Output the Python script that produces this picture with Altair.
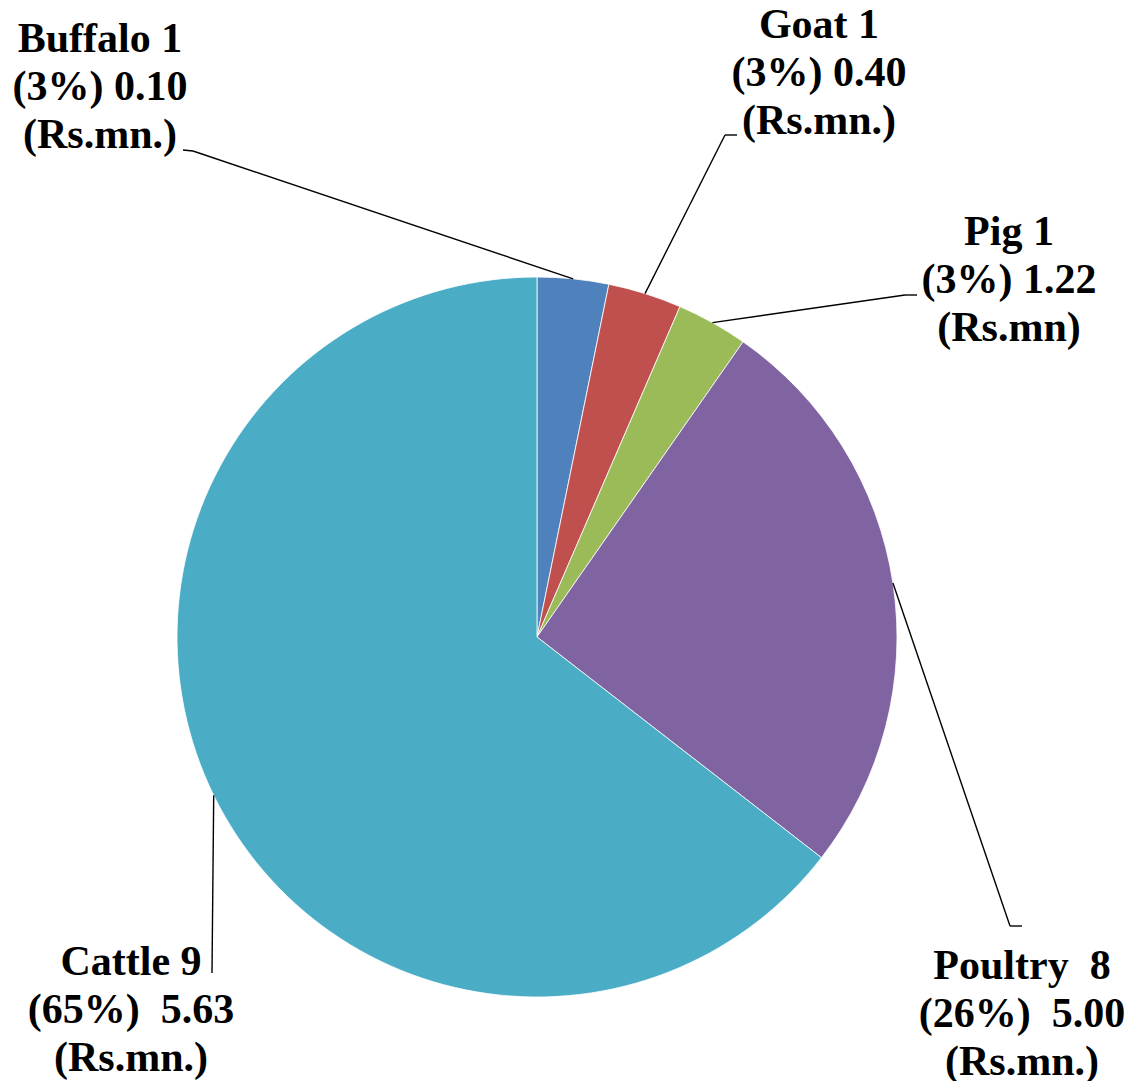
import math
import altair as alt
import pandas as pd

# ---- data ----
categories = ["Buffalo", "Goat", "Pig", "Poultry", "Cattle"]
shares = [3.2, 3.3, 3.2, 25.8, 64.5]          # slice sizes (percent of the pie)
NB = "\u00a0"
labels = [
    "Buffalo 1\n(3%) 0.10\n(Rs.mn.)",
    "Goat 1\n(3%) 0.40\n(Rs.mn.)",
    "Pig 1\n(3%) 1.22\n(Rs.mn)",
    "Poultry " + NB + "8\n(26%) " + NB + "5.00\n(Rs.mn.)",
    "Cattle 9\n(65%) " + NB + "5.63\n(Rs.mn.)",
]
colors = ["#4F81BD", "#C0504D", "#9BBB59", "#8064A2", "#4BACC6"]

# ---- layout (chart pixel coordinates) ----
W, H = 1118, 1073
CX, CY, R = 529, 629, 360
label_pos = [(92, 44), (811, 30), (1001, 237), (1014, 971), (123, 967)]   # centre x, first baseline y
elbows = [[(185, 143), (175, 142)],
          [(717, 127), (729, 127)],
          [(897, 287), (909, 287)],
          [(1002, 918), (1014, 918)],
          [(204, 965)]]

total = sum(shares)
pie = pd.DataFrame({"cat": categories, "share": shares, "order": range(len(categories))})

# leader lines start at the mid-angle of each slice on the rim
seg_rows = []
cum = 0.0
for i, s in enumerate(shares):
    mid = (cum + s / 2) / total * 2 * math.pi
    cum += s
    pts = [(CX + R * math.sin(mid), CY - R * math.cos(mid))] + elbows[i]
    for a, b in zip(pts[:-1], pts[1:]):
        seg_rows.append({"x": a[0], "y": a[1], "x2": b[0], "y2": b[1]})
segs = pd.DataFrame(seg_rows)

lab = pd.DataFrame({"text": labels,
                    "x": [p[0] for p in label_pos],
                    "y": [p[1] for p in label_pos]})

arc = alt.Chart(pie).mark_arc(outerRadius=R, x=CX, y=CY, stroke="white",
                              strokeWidth=0.8).encode(
    theta=alt.Theta("share:Q", stack=True),
    order=alt.Order("order:Q"),
    color=alt.Color("cat:N", scale=alt.Scale(domain=categories, range=colors), legend=None),
)

rules = alt.Chart(segs).mark_rule(color="black", strokeWidth=1.4).encode(
    x=alt.X("x:Q", scale=None), y=alt.Y("y:Q", scale=None),
    x2="x2:Q", y2="y2:Q",
)

texts = alt.Chart(lab).mark_text(
    font="Liberation Serif", fontWeight="bold", fontSize=42, lineHeight=48,
    lineBreak="\n", align="center", baseline="alphabetic", color="black",
).encode(
    x=alt.X("x:Q", scale=None), y=alt.Y("y:Q", scale=None), text="text:N",
)

chart = alt.layer(arc, rules, texts).properties(
    width=W, height=H, padding=0, autosize=alt.AutoSizeParams(type="none"),
).configure_view(stroke=None)

chart.save("out.html", embed_options={"renderer": "svg", "actions": False})
